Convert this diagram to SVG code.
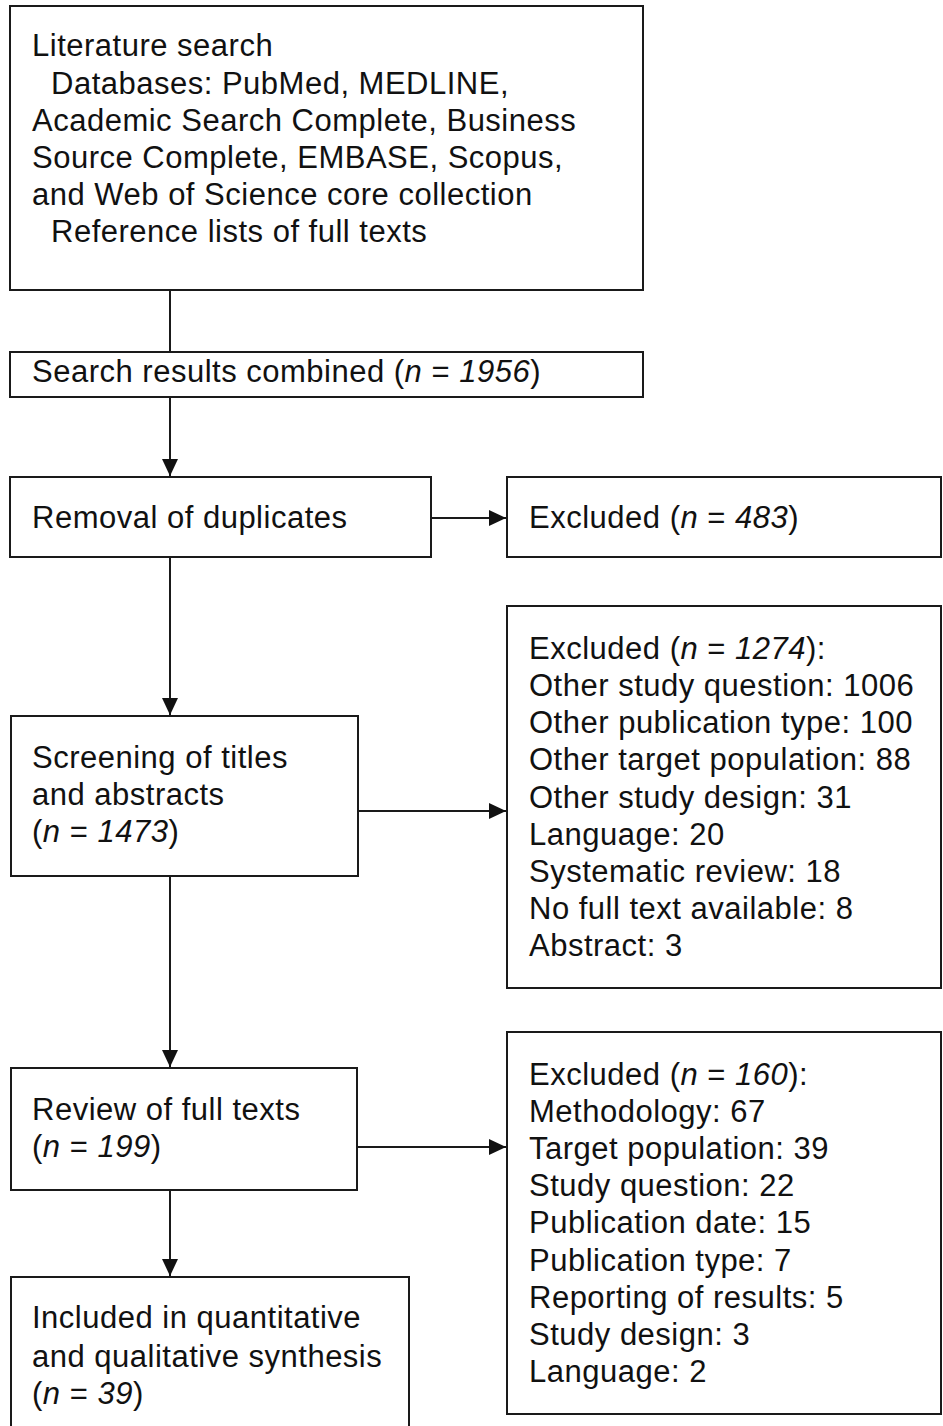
<svg xmlns="http://www.w3.org/2000/svg" width="943" height="1426" viewBox="0 0 943 1426">
<defs>
<style>
.box{fill:#ffffff;stroke:#1a1a1a;stroke-width:2}
.t{font-family:"Liberation Sans",Arial,sans-serif;font-size:31px;letter-spacing:0.5px;fill:#111111}
.i{font-style:italic}
.c{stroke:#1a1a1a;stroke-width:2;fill:none}
</style>
<marker id="ah" markerUnits="userSpaceOnUse" markerWidth="18" markerHeight="16" refX="17" refY="8" orient="auto">
<path d="M0,0 L17,8 L0,16 Z" fill="#111111"/>
</marker>
</defs>
<rect width="943" height="1426" fill="#ffffff"/>

<g id="connectors">
<line class="c" x1="170" y1="290" x2="170" y2="352"/>
<line class="c" x1="170" y1="397" x2="170" y2="476" marker-end="url(#ah)"/>
<line class="c" x1="431" y1="518" x2="506" y2="518" marker-end="url(#ah)"/>
<line class="c" x1="170" y1="557" x2="170" y2="715" marker-end="url(#ah)"/>
<line class="c" x1="358" y1="811" x2="506" y2="811" marker-end="url(#ah)"/>
<line class="c" x1="170" y1="876" x2="170" y2="1067" marker-end="url(#ah)"/>
<line class="c" x1="357" y1="1147" x2="506" y2="1147" marker-end="url(#ah)"/>
<line class="c" x1="170" y1="1190" x2="170" y2="1276" marker-end="url(#ah)"/>
</g>

<g id="literature-search">
<rect class="box" x="10" y="6" width="633" height="284"/>
<text class="t" x="32" y="56">Literature search</text>
<text class="t" x="51" y="94">Databases: PubMed, MEDLINE,</text>
<text class="t" x="32" y="131">Academic Search Complete, Business</text>
<text class="t" x="32" y="168">Source Complete, EMBASE, Scopus,</text>
<text class="t" x="32" y="205">and Web of Science core collection</text>
<text class="t" x="51" y="242">Reference lists of full texts</text>
</g>

<g id="search-results">
<rect class="box" x="10" y="352" width="633" height="45"/>
<text class="t" x="32" y="382">Search results combined (<tspan class="i">n</tspan> = <tspan class="i">1956</tspan>)</text>
</g>

<g id="removal-duplicates">
<rect class="box" x="10" y="477" width="421" height="80"/>
<text class="t" x="32" y="528">Removal of duplicates</text>
</g>

<g id="excluded-483">
<rect class="box" x="507" y="477" width="434" height="80"/>
<text class="t" x="529" y="528">Excluded (<tspan class="i">n</tspan> = <tspan class="i">483</tspan>)</text>
</g>

<g id="screening">
<rect class="box" x="11" y="716" width="347" height="160"/>
<text class="t" x="32" y="768">Screening of titles</text>
<text class="t" x="32" y="805">and abstracts</text>
<text class="t" x="32" y="842">(<tspan class="i">n</tspan> = <tspan class="i">1473</tspan>)</text>
</g>

<g id="excluded-1274">
<rect class="box" x="507" y="606" width="434" height="382"/>
<text class="t" x="529" y="659">Excluded (<tspan class="i">n</tspan> = <tspan class="i">1274</tspan>):</text>
<text class="t" x="529" y="696">Other study question: 1006</text>
<text class="t" x="529" y="733">Other publication type: 100</text>
<text class="t" x="529" y="770">Other target population: 88</text>
<text class="t" x="529" y="808">Other study design: 31</text>
<text class="t" x="529" y="845">Language: 20</text>
<text class="t" x="529" y="882">Systematic review: 18</text>
<text class="t" x="529" y="919">No full text available: 8</text>
<text class="t" x="529" y="956">Abstract: 3</text>
</g>

<g id="review-full-texts">
<rect class="box" x="11" y="1068" width="346" height="122"/>
<text class="t" x="32" y="1120">Review of full texts</text>
<text class="t" x="32" y="1157">(<tspan class="i">n</tspan> = <tspan class="i">199</tspan>)</text>
</g>

<g id="excluded-160">
<rect class="box" x="507" y="1032" width="434" height="382"/>
<text class="t" x="529" y="1085">Excluded (<tspan class="i">n</tspan> = <tspan class="i">160</tspan>):</text>
<text class="t" x="529" y="1122">Methodology: 67</text>
<text class="t" x="529" y="1159">Target population: 39</text>
<text class="t" x="529" y="1196">Study question: 22</text>
<text class="t" x="529" y="1233">Publication date: 15</text>
<text class="t" x="529" y="1271">Publication type: 7</text>
<text class="t" x="529" y="1308">Reporting of results: 5</text>
<text class="t" x="529" y="1345">Study design: 3</text>
<text class="t" x="529" y="1382">Language: 2</text>
</g>

<g id="included">
<rect class="box" x="11" y="1277" width="398" height="160"/>
<text class="t" x="32" y="1328">Included in quantitative</text>
<text class="t" x="32" y="1367">and qualitative synthesis</text>
<text class="t" x="32" y="1404">(<tspan class="i">n</tspan> = <tspan class="i">39</tspan>)</text>
</g>
</svg>
